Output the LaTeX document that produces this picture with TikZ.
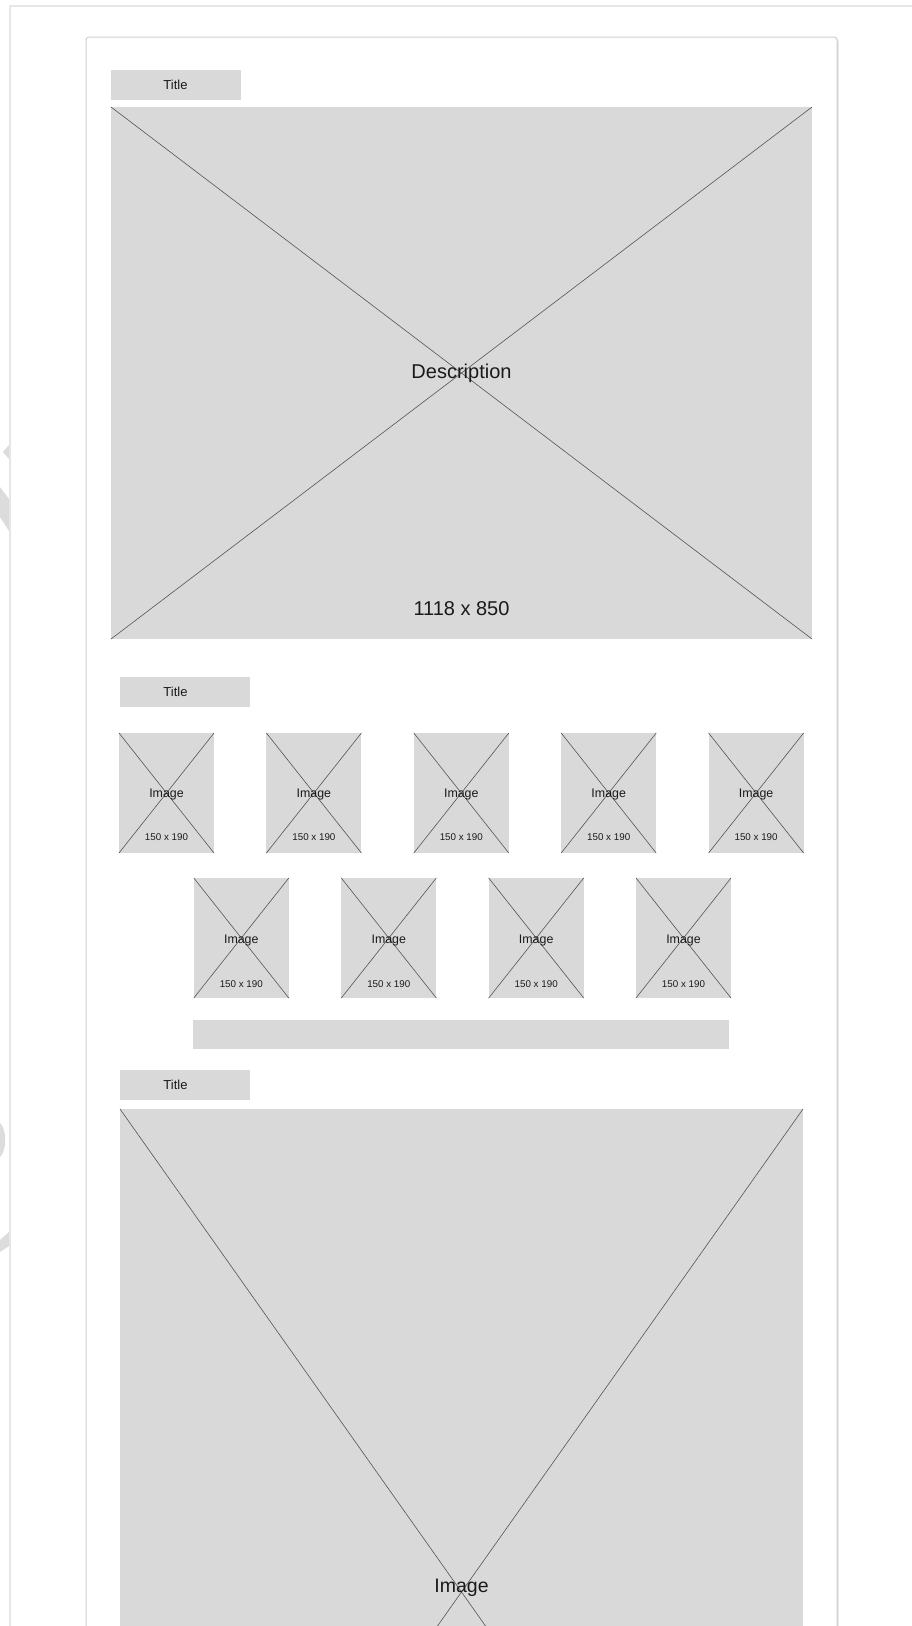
\documentclass[tikz,border=0pt]{standalone}
\usepackage{fontspec}
\setmainfont{Liberation Sans}
\usetikzlibrary{positioning}
\definecolor{Placeholder}{HTML}{D9D9D9}
\definecolor{CrossLine}{HTML}{555555}
\definecolor{CardEdge}{HTML}{D0D0D0}
\definecolor{FrameEdge}{HTML}{E6E6E6}
\definecolor{Mark}{HTML}{DCDCDC}
\definecolor{Ink}{HTML}{1A1A1A}

\begin{document}
\begin{tikzpicture}[x=1pt,y=-1pt,line cap=round,line join=round,
  box/.style={fill=Placeholder,inner sep=0pt,outer sep=0pt,text=Ink},
  cross/.style={CrossLine,line width=0.6pt},
  titlebox/.style={box,minimum width=130pt,minimum height=30pt},
  titletext/.style={text=Ink,inner sep=0pt,font=\fontsize{13}{15}\selectfont},
  thumb/.style={box,minimum width=95pt,minimum height=120pt},
  bigtext/.style={text=Ink,inner sep=0pt,font=\fontsize{20}{24}\selectfont},
  imgtext/.style={text=Ink,inner sep=0pt,font=\fontsize{12.4}{14}\selectfont},
  sizetext/.style={text=Ink,inner sep=0pt,font=\fontsize{9.8}{12}\selectfont}]
  \useasboundingbox (0,0) rectangle (912,1626);
  \begin{scope}
    \clip (0,0) rectangle (912,1626);
    % pieces of the background mark, cut off at the left edge
    \fill[Mark] (3,452) -- (9,445) -- (9,459) -- cycle;
    \fill[Mark] (0,487) -- (9,499) -- (9,531) -- (0,517) -- cycle;
    \fill[Mark] (0,1123) .. controls (7,1130) and (7,1150) .. (0,1157) -- cycle;
    \fill[Mark] (0,1240) -- (9,1232) -- (9,1246) -- (0,1252) -- cycle;
    \draw[FrameEdge,line width=2pt] (10,6) rectangle (1000,1700);
    % card
    \fill[black!14,rounded corners=3pt] (87.5,38.5) rectangle (838.5,1700);
    \filldraw[fill=white,draw=CardEdge,line width=1pt,rounded corners=3pt] (86,37) rectangle (837,1700);

    % first section: hero image
    \node[titlebox] (titleA) at (176,85) {};
    \node[titletext] (titleAtext) at (175.5,85) {Title};
    \node[box,minimum width=701pt,minimum height=532pt] (hero) at (461.5,373) {};
    \draw[cross] (hero.north west) -- (hero.south east) (hero.north east) -- (hero.south west);
    \node[bigtext] (heroDesc) at (hero.center) {Description};
    \node[bigtext] (heroSize) at (461.5,609) {1118 x 850};

    % second section: two rows of thumbnails and a bar
    \node[titlebox] (titleB) at (184.5,692) {};
    \node[titletext] (titleBtext) at (175.5,692) {Title};
    \foreach \i/\x in {1/166.5,2/313.9,3/461.3,4/608.7,5/756.1} {
      \node[thumb] (thumbA\i) at (\x,793) {};
      \draw[cross] (thumbA\i.north west) -- (thumbA\i.south east) (thumbA\i.north east) -- (thumbA\i.south west);
      \node[imgtext] (thumbA\i img) at ([yshift=-2pt]thumbA\i.center) {Image};
      \node[sizetext] (thumbA\i size) at ([yshift=-44pt]thumbA\i.center) {150 x 190};
    }
    \foreach \i/\x in {1/241.3,2/388.8,3/536.2,4/683.5} {
      \node[thumb] (thumbB\i) at (\x,938) {};
      \draw[cross] (thumbB\i.north west) -- (thumbB\i.south east) (thumbB\i.north east) -- (thumbB\i.south west);
      \node[imgtext] (thumbB\i img) at ([yshift=-3pt]thumbB\i.center) {Image};
      \node[sizetext] (thumbB\i size) at ([yshift=-46pt]thumbB\i.center) {150 x 190};
    }
    \node[box,minimum width=536pt,minimum height=29pt] (bar) at (461,1034.5) {};

    % third section: large image, running off the page
    \node[titlebox] (titleC) at (185,1084.5) {};
    \node[titletext] (titleCtext) at (175.5,1084.5) {Title};
    \node[box,minimum width=683pt,minimum height=966pt] (feature) at (461.5,1592) {};
    \draw[cross] (feature.north west) -- (feature.south east) (feature.north east) -- (feature.south west);
    \node[bigtext,font=\fontsize{19.5}{23}\selectfont] (featureImg) at ([yshift=4pt]feature.center) {Image};
  \end{scope}
\end{tikzpicture}
\end{document}
